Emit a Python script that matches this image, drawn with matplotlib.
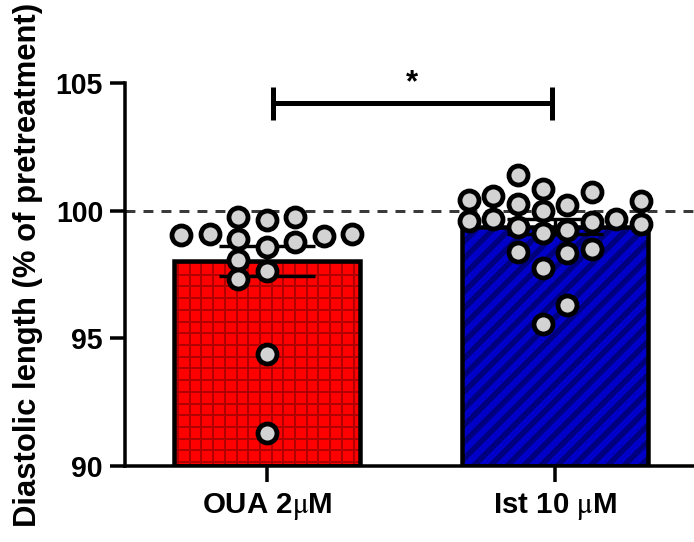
import numpy as np
import matplotlib
matplotlib.use("Agg")
import matplotlib.pyplot as plt
from matplotlib.collections import LineCollection

# ── CONFIG ──────────────────────────────────────────────────────────────────
DPI        = 72
FIG_W_PX   = 694
FIG_H_PX   = 542
OUT_PATH   = "out.png"
plt.rcParams["font.family"] = ["Liberation Sans", "DejaVu Sans"]
plt.rcParams["mathtext.fontset"] = "stix"
# ────────────────────────────────────────────────────────────────────────────

# groups
groups      = ["OUA 2$\\mathrm{\\mu}$M", "Ist 10 $\\mathrm{\\mu}$M"]
fill_colors = ["#ff0000", "#0000c8"]
hatch_cols  = ["#b00000", "#00007e"]
hatch_kind  = ["grid", "diag"]

# individual points, with their swarm column
oua_values = [99.06, 99.10, 99.75, 99.62, 99.75, 98.99, 99.10,
              98.90, 98.58, 98.77, 98.08, 97.62, 97.32, 94.39, 91.29]
oua_slots  = [-3, -2, -1, 0, 1, 2, 3,
              -1, 0, 1, -1, 0, -1, 0, 0]

ist_values = [101.41, 100.43, 100.56, 100.27, 100.86, 100.21, 100.73, 100.37,
              99.58, 99.69, 99.97, 99.35, 99.13, 99.26, 99.54, 99.67, 99.49,
              98.37, 98.34, 98.51, 97.76, 96.29, 95.57]
ist_slots  = [-1.5, -3.5, -2.5, -1.5, -0.5, 0.5, 1.5, 3.5,
              -3.5, -2.5, -0.5, -1.5, -0.5, 0.5, 1.5, 2.5, 3.5,
              -1.5, 0.5, 1.5, -0.5, 0.5, -0.5]

slot_step  = [0.099, 0.0854]         # column spacing of the swarm per group

# axis
y_ticks    = [90, 95, 100, 105]
y_lim      = (90, 105)
x_lim      = (-0.493, 1.483)
baseline   = 100
y_label    = "Diastolic length (% of pretreatment)"

# significance bracket
sig_y      = 104.2
sig_text   = "*"

BAR_W = 0.645


def hatch_lines(ax, patch, kind, color):
    """Draw the fill texture as lines (in pixels) clipped to the bar."""
    x0, y0 = ax.transData.transform((patch.get_x(), patch.get_y()))
    x1, y1 = ax.transData.transform((patch.get_x() + patch.get_width(),
                                     patch.get_y() + patch.get_height()))
    segs = []
    if kind == "grid":
        step, lw = 11.7, 2.0
        for xx in np.arange(x0 + 4, x1, step):
            segs.append([(xx, y0), (xx, y1)])
        for yy in np.arange(y0 + 4, y1, step):
            segs.append([(x0, yy), (x1, yy)])
    else:
        step, lw = 16.7, 5.5
        h = y1 - y0
        for xx in np.arange(x0 - h, x1 + step, step):
            segs.append([(xx, y0), (xx + h, y1)])
    lc = LineCollection(segs, colors=color, linewidths=lw, zorder=1.5,
                        transform=None)
    ax.add_collection(lc, autolim=False)
    # set after add_collection, otherwise the axes patch replaces the clip
    lc.set_clip_path(patch)


def draw_bars(ax, x, means):
    for i in range(len(x)):
        fb = ax.bar(x[i], means[i] - y_lim[0], bottom=y_lim[0], width=BAR_W,
                    color=fill_colors[i], linewidth=0, zorder=1)
        hatch_lines(ax, fb[0], hatch_kind[i], hatch_cols[i])
        ax.bar(x[i], means[i] - y_lim[0], bottom=y_lim[0], width=BAR_W,
               fill=False, edgecolor="black", linewidth=4.5, zorder=2)


def main():
    fig = plt.figure(figsize=(FIG_W_PX / DPI, FIG_H_PX / DPI), dpi=DPI)
    ax = fig.add_axes([125 / FIG_W_PX, 76 / FIG_H_PX,
                       569 / FIG_W_PX, 383 / FIG_H_PX])
    ax.set_xlim(*x_lim)
    ax.set_ylim(*y_lim)

    x = np.arange(len(groups))
    all_vals  = [np.array(oua_values), np.array(ist_values)]
    all_slots = [np.array(oua_slots), np.array(ist_slots)]
    means = [v.mean() for v in all_vals]
    sems  = [v.std(ddof=1) / np.sqrt(len(v)) for v in all_vals]

    draw_bars(ax, x, means)

    ax.errorbar(x, means, yerr=sems, fmt="none", ecolor="black",
                elinewidth=3.4, capsize=48, capthick=3.4, zorder=3)

    ax.axhline(baseline, color="#3a3a3a", lw=3, ls=(0, (3.3, 2.7)), zorder=2.5)

    for i in range(len(x)):
        ax.plot(x[i] + all_slots[i] * slot_step[i], all_vals[i], "o",
                ms=19, mfc="#d3d3d3", mec="black", mew=4.8,
                ls="none", zorder=4, clip_on=False)

    # significance bracket
    x0, x1 = x[0] + 0.02, x[1] - 0.01
    ax.plot([x0, x1], [sig_y, sig_y], color="black", lw=5, clip_on=False,
            solid_capstyle="butt")
    for xx in (x0, x1):
        ax.plot([xx, xx], [sig_y - 0.65, sig_y + 0.65], color="black", lw=5,
                clip_on=False, solid_capstyle="butt")
    ax.text((x0 + x1) / 2, sig_y + 0.2, sig_text, ha="center", va="bottom",
            fontsize=31, fontweight="bold", clip_on=False)

    ax.set_yticks(y_ticks)
    ax.set_yticklabels([str(t) for t in y_ticks], fontweight="bold")
    ax.set_xticks(x)
    ax.set_xticklabels(groups, fontweight="bold")

    for side in ("top", "right"):
        ax.spines[side].set_visible(False)
    for side in ("left", "bottom"):
        ax.spines[side].set_linewidth(3.5)
    ax.tick_params(axis="y", length=15, width=3.5, labelsize=28.5, pad=7)
    ax.tick_params(axis="x", length=16, width=3.5, labelsize=29.5, pad=9)

    fig.text(28 / FIG_W_PX, 1 - 265 / FIG_H_PX, y_label, rotation=90,
             ha="center", va="center", fontsize=31, fontweight="bold")

    fig.savefig(OUT_PATH, dpi=DPI)


if __name__ == "__main__":
    main()
